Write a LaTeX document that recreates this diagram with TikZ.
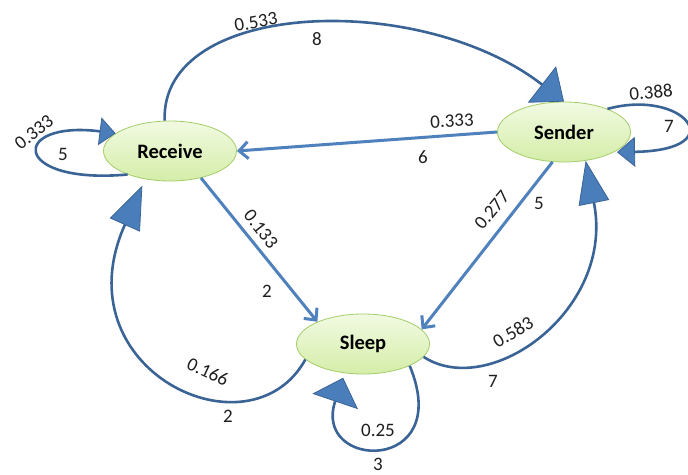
\documentclass[tikz,border=0pt]{standalone}
\usepackage{fontspec}
\setmainfont{Carlito}
\usetikzlibrary{arrows.meta,shapes.geometric}
\definecolor{curveblue}{RGB}{59,100,150}
\definecolor{lineblue}{RGB}{79,129,189}
\definecolor{trifill}{RGB}{74,126,187}
\definecolor{nodeedge}{RGB}{165,205,105}
\definecolor{nodetop}{RGB}{242,250,226}
\definecolor{nodebot}{RGB}{212,237,168}
\definecolor{labtext}{RGB}{30,30,30}
\begin{document}
\begin{tikzpicture}[x=1pt,y=-1pt,
  state/.style={ellipse, draw=nodeedge, line width=0.8pt, top color=nodetop, bottom color=nodebot,
    minimum width=133pt, minimum height=60pt, inner sep=0pt, font=\fontsize{20.5}{24}\selectfont\bfseries},
  curve/.style={draw=curveblue, line width=2.6pt},
  tri/.style 2 args={-{Triangle[width=#1,length=#2,fill=trifill,line width=0.8pt]}},
  straight/.style={draw=lineblue, line width=3pt, -{Straight Barb[length=9pt,width=17pt]}},
  lab/.style={font=\fontsize{19}{22}\selectfont, text=labtext, inner sep=0pt},
]
\useasboundingbox[fill=white] (0,0) rectangle (688,474);

\node[state] (R) at (170,151) {Receive};
\node[state] (S) at (564,132) {Sender};
\node[state] (L) at (363,344) {Sleep};

% curved connectors
\draw[curve, tri={46pt}{28pt}] (R.100) .. controls (160,0) and (420,-10) .. (S.north);
\draw[curve, tri={30pt}{18pt}] (S.28) .. controls (684,88) and (734,150) .. ([xshift=3pt]S.-22);
\draw[curve, tri={31pt}{43pt}] (L.-12) .. controls (490,400) and (615,310) .. (S.-53);
\draw[curve, tri={48pt}{25pt}] (L.-25) .. controls (455,475) and (312,470) .. ([xshift=-6pt,yshift=-4pt]L.-115);
\draw[curve, tri={33pt}{43pt}] (L.-165) .. controls (250,460) and (60,370) .. ([yshift=-7pt]R.-135);
\draw[curve, tri={28pt}{16pt}] (R.-151) .. controls (10,185) and (10,120) .. (R.162);

% straight connectors
\draw[straight] (S.west) -- (R.east);
\draw[straight] (R.-41) -- (L.154);
\draw[straight] (S.-111) -- (L.14);

% labels
\node[lab, rotate=10] (l1) at (256,22) {0.533};
\node[lab] (l2) at (317,39) {8};
\node[lab, rotate=6] (l3) at (651,92) {0.388};
\node[lab] (l4) at (669,126) {7};
\node[lab, rotate=3] (l5) at (452,121) {0.333};
\node[lab] (l6) at (423,157) {6};
\node[lab, rotate=-52] (l7) at (261,229) {0.133};
\node[lab] (l8) at (267,291) {2};
\node[lab, rotate=50] (l9) at (492,210) {0.277};
\node[lab] (l10) at (539,203) {5};
\node[lab, rotate=31] (l11) at (513,332) {0.583};
\node[lab] (l12) at (493,381) {7};
\node[lab] (l13) at (378,430) {0.25};
\node[lab] (l14) at (378,464) {3};
\node[lab, rotate=-25] (l15) at (208,372) {0.166};
\node[lab] (l16) at (228,416) {2};
\node[lab, rotate=38] (l17) at (34,132) {0.333};
\node[lab] (l18) at (63,154) {5};
\end{tikzpicture}
\end{document}
